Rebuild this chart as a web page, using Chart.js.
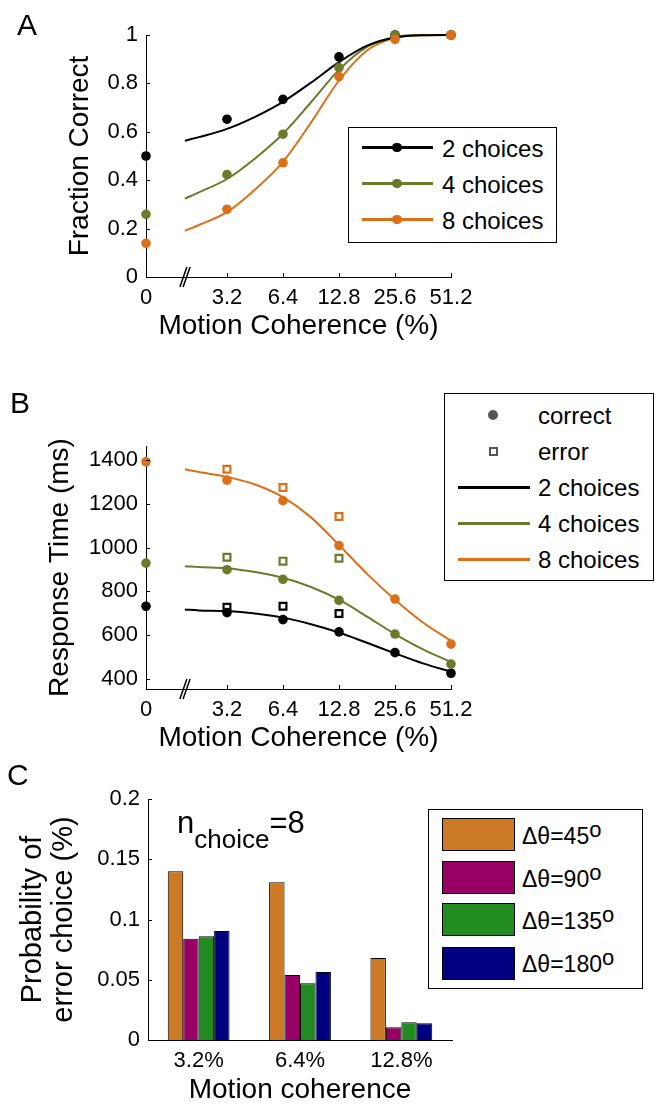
<!DOCTYPE html>
<html>
<head>
<meta charset="utf-8">
<script src="https://cdn.jsdelivr.net/npm/chart.js@4.4.1/dist/chart.umd.min.js"></script>
<style>
  body { margin: 0; background: #fff; }
  #fig { position: relative; width: 664px; height: 1105px; background: #fff; overflow: hidden;
         font-family: "Liberation Sans", Arial, Helvetica, sans-serif; color: #000; }
  #fig canvas { position: absolute; left: 0; }
  .abs { position: absolute; white-space: nowrap; }
  .panel { font-size: 30px; line-height: 30px; }
  .legend { position: absolute; border: 1px solid #000; box-sizing: border-box; background: #fff; }
</style>
</head>
<body>
<div id="fig"></div>
<script>
// ---- data ----
const coherence = [0, 3.2, 6.4, 12.8, 25.6, 51.2];
const xTickLabels = ['0', '3.2', '6.4', '12.8', '25.6', '51.2'];
const choiceNames = ['2 choices', '4 choices', '8 choices'];
const choiceColors = ['#000000', '#6b7b2b', '#db7019'];

// A: fraction correct
const fracTicks = [0, 0.2, 0.4, 0.6, 0.8, 1];
const frac2 = [0.50, 0.652, 0.734, 0.910, 1.0, 1.0];
const frac4 = [0.259, 0.423, 0.590, 0.865, 1.0, 1.0];
const frac8 = [0.139, 0.280, 0.472, 0.828, 0.982, 1.0];
const fitCoherence = [1.9, 2.26, 3.2, 4.53, 6.4, 9.05, 12.8, 18.1, 25.6, 36.2, 51.2];
const fitFrac2 = [0.563, 0.578, 0.612, 0.662, 0.724, 0.803, 0.888, 0.956, 0.990, 0.999, 1.0];
const fitFrac4 = [0.324, 0.350, 0.405, 0.490, 0.592, 0.722, 0.856, 0.951, 0.992, 1.0, 1.0];
const fitFrac8 = [0.191, 0.215, 0.268, 0.362, 0.476, 0.638, 0.812, 0.936, 0.988, 0.999, 1.0];

// B: response time
const rtTicks = [400, 600, 800, 1000, 1200, 1400];
const rtCorrect2 = [732, 703, 671, 615, 520, 426];
const rtCorrect4 = [929, 899, 855, 759, 605, 468];
const rtCorrect8 = [1392, 1308, 1214, 1009, 765, 559];
const errCoherence = [3.2, 6.4, 12.8];
const rtError2 = [727, 732, 699];
const rtError4 = [956, 938, 951];
const rtError8 = [1358, 1274, 1142];
const fitRt2 = [717, 713, 710, 699, 680, 650, 612, 565, 517, 471, 433];
const fitRt4 = [915, 911, 906, 888, 862, 820, 762, 685, 605, 535, 477];
const fitRt8 = [1358, 1345, 1323, 1288, 1230, 1138, 1012, 880, 762, 658, 574];

// C: error choice probability
const barCategories = ['3.2%', '6.4%', '12.8%'];
const dThetaNames = ['\u0394\u03b8=45', '\u0394\u03b8=90', '\u0394\u03b8=135', '\u0394\u03b8=180'];
const barColors = ['#cc7a26', '#990066', '#228b22', '#000080'];
const pErrTicks = [0, 0.05, 0.1, 0.15, 0.2];
const pErr45 = [0.140, 0.131, 0.068];
const pErr90 = [0.084, 0.054, 0.0105];
const pErr135 = [0.086, 0.047, 0.0147];
const pErr180 = [0.0905, 0.0564, 0.0139];

// ---- layout helpers ----
const FAMILY = '"Liberation Sans", Arial, Helvetica, sans-serif';
const PAGE_W = 664;
const ZERO_POS = -1.446;   // where coherence 0 sits on the broken log axis
const BREAK_POS = -0.75;
const fig = document.getElementById('fig');

const pos = (c) => (c === 0 ? ZERO_POS : Math.log2(c / 3.2));
const pts = (xs, ys) => xs.map((c, i) => ({ x: pos(c), y: ys[i] }));

function frame(top, h, area, yMid, yLH, xMid, xLH) {
  const pl = yMid - yLH / 2;
  const xBottom = xMid + xLH / 2;
  return {
    padding: { left: pl, right: PAGE_W - area.r, top: area.t - top, bottom: top + h - xBottom },
    yWidth: area.l - pl,
    xHeight: xBottom - area.b
  };
}

function makeCanvas(top, h) {
  const c = document.createElement('canvas');
  c.width = PAGE_W; c.height = h;
  c.style.top = top + 'px';
  fig.appendChild(c);
  return c;
}

function fixSize(size, horizontal) {
  return (s) => {
    if (horizontal) s.height = size; else s.width = size;
    s.paddingLeft = s.paddingRight = s.paddingTop = s.paddingBottom = 0;
  };
}

function baseScale(title, titleSize, titleLH) {
  return {
    grid: { display: false, drawTicks: false },
    border: { display: true, color: '#000', width: 1 },
    ticks: { color: '#000', font: { family: FAMILY, size: 22, lineHeight: 1.2 }, padding: 8, autoSkip: false, maxRotation: 0 },
    title: { display: true, text: title, color: '#000', padding: 0, font: { family: FAMILY, size: titleSize, lineHeight: titleLH } }
  };
}

// inward tick marks and the axis break
const axisDeco = {
  id: 'axisDeco',
  afterDraw(chart, args, opts) {
    const ctx = chart.ctx;
    const { left, bottom } = chart.chartArea;
    ctx.save();
    ctx.strokeStyle = '#000';
    ctx.lineWidth = 1;
    if (opts.yTicks) {
      const ys = chart.scales.y;
      ys.ticks.forEach((t) => {
        const py = Math.round(ys.getPixelForValue(t.value)) + 0.5;
        ctx.beginPath(); ctx.moveTo(left, py); ctx.lineTo(left + 4, py); ctx.stroke();
      });
    }
    if (opts.xTicks) {
      const xs = chart.scales.x;
      xs.ticks.forEach((t) => {
        const px = Math.round(xs.getPixelForValue(t.value)) + 0.5;
        ctx.beginPath(); ctx.moveTo(px, bottom); ctx.lineTo(px, bottom - 4); ctx.stroke();
      });
    }
    if (opts.breakAt != null) {
      const bx = chart.scales.x.getPixelForValue(opts.breakAt);
      ctx.lineWidth = 1.5;
      [-1.6, 1.6].forEach((d) => {
        ctx.beginPath();
        ctx.moveTo(bx + d - 3.5, bottom + 10);
        ctx.lineTo(bx + d + 3.5, bottom - 10);
        ctx.stroke();
      });
    }
    ctx.restore();
  }
};

function commonOptions(fr, plugins) {
  return {
    responsive: false,
    animation: false,
    events: [],
    layout: { padding: fr.padding },
    plugins: Object.assign({ legend: { display: false }, tooltip: { enabled: false } }, plugins)
  };
}

function coherenceAxis(fr) {
  return Object.assign(baseScale('Motion Coherence (%)', 28, 1), {
    type: 'linear', min: ZERO_POS, max: 4,
    afterBuildTicks: (s) => { s.ticks = coherence.map((c) => ({ value: pos(c) })); },
    afterFit: fixSize(fr.xHeight, true)
  });
}
function withTickCb(scale) {
  scale.ticks.callback = (v, i) => xTickLabels[i];
  return scale;
}

// ---- A ----
const frA = frame(0, 350, { l: 146, r: 451, t: 35, b: 277 }, 80, 28, 326.3, 28);
const fracCurves = [fitFrac2, fitFrac4, fitFrac8];
const fracDots = [frac2, frac4, frac8];
const dsA = [];
[2, 1, 0].forEach((k) => dsA.push({
  type: 'line', data: pts(coherence, fracDots[k]), showLine: false, clip: false,
  pointRadius: 4.8, pointBackgroundColor: choiceColors[k], pointBorderWidth: 0
}));
[0, 1, 2].forEach((k) => dsA.push({
  type: 'line', data: pts(fitCoherence, fracCurves[k]), borderColor: choiceColors[k], borderWidth: 2,
  pointRadius: 0, cubicInterpolationMode: 'monotone', clip: false
}));
const yA = Object.assign(baseScale('Fraction Correct', 28, 1), {
  min: 0, max: 1,
  afterBuildTicks: (s) => { s.ticks = fracTicks.map((v) => ({ value: v })); },
  afterFit: fixSize(frA.yWidth, false)
});
yA.ticks.callback = (v) => String(v);
new Chart(makeCanvas(0, 350), {
  type: 'line',
  data: { datasets: dsA },
  options: Object.assign(commonOptions(frA, { axisDeco: { yTicks: true, xTicks: true, breakAt: BREAK_POS } }), {
    scales: { x: withTickCb(coherenceAxis(frA)), y: yA }
  }),
  plugins: [axisDeco]
});

// ---- B ----
const frB = frame(360, 400, { l: 146, r: 451, t: 446, b: 689 }, 60, 28, 738.3, 28);
const rtCurves = [fitRt2, fitRt4, fitRt8];
const rtDots = [rtCorrect2, rtCorrect4, rtCorrect8];
const rtErrs = [rtError2, rtError4, rtError8];
const dsB = [];
[2, 1, 0].forEach((k) => dsB.push({
  type: 'line', data: pts(errCoherence, rtErrs[k]), showLine: false, clip: false,
  pointStyle: 'rect', pointRadius: 4.8, pointBackgroundColor: 'rgba(0,0,0,0)',
  pointBorderColor: choiceColors[k], pointBorderWidth: 2.2
}));
[2, 1, 0].forEach((k) => dsB.push({
  type: 'line', data: pts(coherence, rtDots[k]), showLine: false, clip: false,
  pointRadius: 4.8, pointBackgroundColor: choiceColors[k], pointBorderWidth: 0
}));
[0, 1, 2].forEach((k) => dsB.push({
  type: 'line', data: pts(fitCoherence, rtCurves[k]), borderColor: choiceColors[k], borderWidth: 2,
  pointRadius: 0, cubicInterpolationMode: 'monotone', clip: false
}));
const yB = Object.assign(baseScale('Response Time (ms)', 28, 1), {
  min: 354, max: 1464,
  afterBuildTicks: (s) => { s.ticks = rtTicks.map((v) => ({ value: v })); },
  afterFit: fixSize(frB.yWidth, false)
});
yB.ticks.callback = (v) => String(v);
new Chart(makeCanvas(360, 400), {
  type: 'line',
  data: { datasets: dsB },
  options: Object.assign(commonOptions(frB, { axisDeco: { yTicks: true, xTicks: true, breakAt: BREAK_POS } }), {
    scales: { x: withTickCb(coherenceAxis(frB)), y: yB }
  }),
  plugins: [axisDeco]
});

// ---- C ----
const frC = frame(760, 345, { l: 148, r: 452, t: 799, b: 1040 }, 33, 31, 1090.3, 28);
const pErr = [pErr45, pErr90, pErr135, pErr180];
const xC = Object.assign(baseScale('Motion coherence', 28, 1), {
  type: 'category', offset: true,
  afterFit: fixSize(frC.xHeight, true)
});
const yC = Object.assign(baseScale(['Probability of', 'error choice (%)'], 29, 31 / 29), {
  min: 0, max: 0.2,
  afterBuildTicks: (s) => { s.ticks = pErrTicks.map((v) => ({ value: v })); },
  afterFit: fixSize(frC.yWidth, false)
});
yC.ticks.callback = (v) => String(v);
new Chart(makeCanvas(760, 345), {
  type: 'bar',
  data: {
    labels: barCategories,
    datasets: pErr.map((vals, k) => ({
      label: dThetaNames[k], data: vals, backgroundColor: barColors[k],
      borderColor: '#000', borderWidth: 1, categoryPercentage: 0.61, barPercentage: 1
    }))
  },
  options: Object.assign(commonOptions(frC, { axisDeco: { yTicks: true } }), {
    scales: { x: xC, y: yC }
  }),
  plugins: [axisDeco]
});

// ---- overlay text: panel letters, legends, annotation ----
function el(cls, style, html) {
  const d = document.createElement('div');
  d.className = cls;
  Object.assign(d.style, style);
  if (html != null) d.innerHTML = html;
  fig.appendChild(d);
  return d;
}
function textAt(left, cy, size, html) {
  return el('abs', { left: left + 'px', top: (cy - size / 2 + 1) + 'px', fontSize: size + 'px', lineHeight: size + 'px' }, html);
}
function lineMark(x1, x2, cy, color, w) {
  el('abs', { left: x1 + 'px', top: (cy - w / 2) + 'px', width: (x2 - x1) + 'px', height: w + 'px', background: color });
}
function dotMark(cx, cy, r, color) {
  el('abs', { left: (cx - r) + 'px', top: (cy - r) + 'px', width: 2 * r + 'px', height: 2 * r + 'px', borderRadius: '50%', background: color });
}

el('abs panel', { left: '17px', top: '9.6px' }, 'A');
el('abs panel', { left: '10px', top: '387.6px' }, 'B');
el('abs panel', { left: '7px', top: '759.6px' }, 'C');

// legend A
el('legend', { left: '348px', top: '127px', width: '209px', height: '116px' });
[147.7, 183.7, 219.7].forEach((cy, k) => {
  lineMark(362, 433, cy, choiceColors[k], 3);
  dotMark(397, cy, 4.8, choiceColors[k]);
  textAt(442, cy, 24, choiceNames[k]);
});

// legend B
el('legend', { left: '444px', top: '393px', width: '210px', height: '188px' });
dotMark(493, 415, 5, '#555');
textAt(538, 415, 24, 'correct');
el('abs', { left: '488.5px', top: '446.5px', width: '9px', height: '9px', border: '2.5px solid #555', boxSizing: 'border-box' });
textAt(538, 451, 24, 'error');
[487, 523, 559].forEach((cy, k) => {
  lineMark(458, 530, cy, choiceColors[k], 3);
  textAt(538, cy, 24, choiceNames[k]);
});

// legend C
el('legend', { left: '428px', top: '809px', width: '215px', height: '180px' });
[834, 877, 919, 962.7].forEach((cy, k) => {
  el('abs', { left: '442px', top: (cy - 16) + 'px', width: '73px', height: '33px', background: barColors[k], border: '1px solid #000', boxSizing: 'border-box' });
  textAt(522, cy + 1, 23, dThetaNames[k] + '<span style="font-size:22px;position:relative;top:-7px">o</span>');
});

// n_choice annotation
el('abs', { left: '177px', top: '806.8px', fontSize: '31px', lineHeight: '31px' },
  'n<span style="font-size:26px;position:relative;top:15px">choice</span>=8');
</script>
</body>
</html>
